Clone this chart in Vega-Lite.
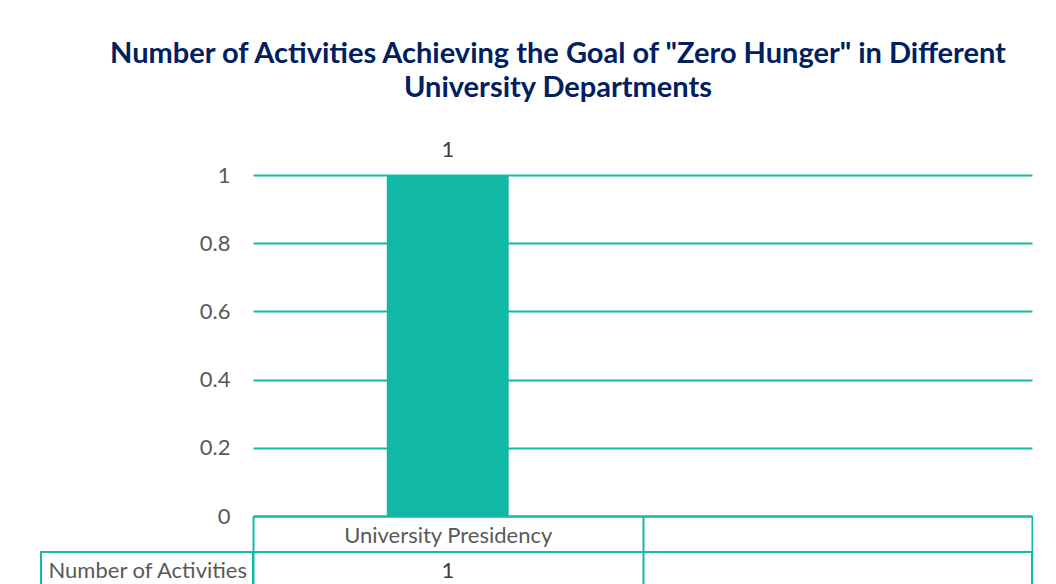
{
  "$schema": "https://vega.github.io/schema/vega-lite/v6.json",
  "autosize": {"type": "pad"},
  "padding": {"left": 40, "top": 40, "right": 0, "bottom": 0},
  "background": "white",
  "title": {
    "text": ["Number of Activities Achieving the Goal of \"Zero Hunger\" in Different", "University Departments"],
    "anchor": "start",
    "align": "center",
    "frame": "group",
    "font": "Lato",
    "fontSize": 29,
    "fontWeight": "bold",
    "color": "#002060",
    "lineHeight": 34,
    "dx": 517,
    "offset": 36
  },
  "datasets": {
    "depts": [
      {"dept": "University Presidency", "activities": 1},
      {"dept": "", "activities": null}
    ]
  },
  "bounds": "flush",
  "columns": 2,
  "spacing": {"row": 36, "column": 0},
  "concat": [
    {
      "width": 212,
      "height": 341,
      "data": {"values": [{"blank": ""}]},
      "mark": {"type": "text"},
      "encoding": {"text": {"field": "blank", "type": "nominal"}}
    },
    {
      "width": 779,
      "height": 341,
      "data": {"name": "depts"},
      "encoding": {
        "x": {
          "field": "dept",
          "type": "nominal",
          "sort": null,
          "scale": {"domain": ["University Presidency", ""], "paddingInner": 0, "paddingOuter": 0},
          "axis": {
            "title": null,
            "orient": "bottom",
            "labelAngle": 0,
            "labelLimit": 0,
            "domainColor": "#14B8A6",
            "domainWidth": 2,
            "ticks": true,
            "tickBand": "extent",
            "tickColor": "#14B8A6",
            "tickWidth": 2,
            "tickSize": 37,
            "labelPadding": -18,
            "labelBaseline": "middle",
            "labelFont": "Lato",
            "labelFontSize": 22,
            "labelColor": "#595959",
            "grid": false
          }
        }
      },
      "layer": [
        {
          "mark": {"type": "bar", "width": {"band": 0.313}, "color": "#12B8A6"},
          "encoding": {
            "y": {
              "field": "activities",
              "type": "quantitative",
              "scale": {"domain": [0, 1], "nice": false},
              "axis": {
                "title": null,
                "values": [0, 0.2, 0.4, 0.6, 0.8, 1],
                "format": "~g",
                "domain": false,
                "ticks": false,
                "grid": true,
                "gridColor": "#14B8A6",
                "gridWidth": 2,
                "labelPadding": 23,
                "labelFont": "Lato",
                "labelFontSize": 22,
                "labelColor": "#595959"
              }
            }
          }
        },
        {
          "mark": {"type": "text", "dy": -25, "font": "Lato", "fontSize": 22, "color": "#404040", "baseline": "middle"},
          "encoding": {
            "y": {"field": "activities", "type": "quantitative"},
            "text": {"field": "activities", "type": "quantitative"}
          }
        }
      ]
    },
    {
      "width": 212,
      "height": 37,
      "view": {"stroke": "#14B8A6", "strokeWidth": 2},
      "data": {"values": [{"blank": ""}]},
      "mark": {"type": "text"},
      "encoding": {"text": {"field": "blank", "type": "nominal"}}
    },
    {
      "width": 779,
      "height": 37,
      "view": {"stroke": "#14B8A6", "strokeWidth": 2},
      "data": {"name": "depts"},
      "transform": [{"filter": "datum.activities != null"}],
      "mark": {"type": "text", "font": "Lato", "fontSize": 22, "color": "#404040"},
      "encoding": {
        "x": {
          "field": "dept",
          "type": "nominal",
          "sort": null,
          "scale": {"domain": ["University Presidency", ""], "paddingInner": 0, "paddingOuter": 0},
          "axis": {
            "title": null,
            "orient": "top",
            "labels": false,
            "ticks": false,
            "domain": false,
            "grid": true,
            "tickBand": "extent",
            "gridColor": "#14B8A6",
            "gridWidth": 2
          }
        },
        "y": {
          "datum": "Number of Activities",
          "type": "nominal",
          "axis": {
            "title": null,
            "domain": false,
            "ticks": false,
            "labelAlign": "left",
            "labelPadding": 205,
            "labelLimit": 0,
            "labelFont": "Lato",
            "labelFontSize": 22,
            "labelColor": "#595959"
          }
        },
        "text": {"field": "activities", "type": "quantitative"}
      }
    }
  ],
  "config": {"view": {"stroke": null}, "font": "Lato"}
}
